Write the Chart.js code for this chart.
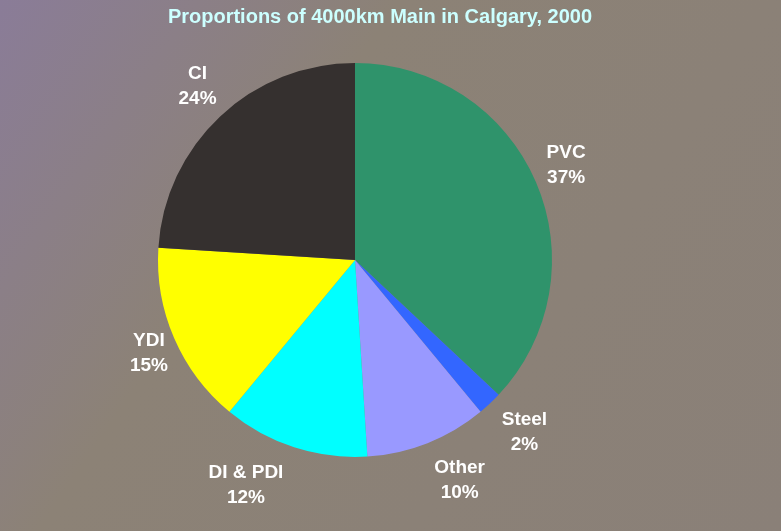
<!DOCTYPE html>
<html>
<head>
<meta charset="utf-8">
<script src="https://cdn.jsdelivr.net/npm/chart.js@4/dist/chart.umd.min.js"></script>
<style>
  html, body { margin: 0; padding: 0; background: #8b8178; }
  #wrap { width: 781px; height: 531px; position: relative; }
</style>
</head>
<body>
<div id="wrap"><canvas id="pie" width="781" height="531"></canvas></div>
<script>
const labels = ["PVC", "Steel", "Other", "DI & PDI", "YDI", "CI"];
const shares = [37, 2, 10, 12, 15, 24];
const colors = ["#2f936b", "#3366ff", "#9999ff", "#00ffff", "#ffff00", "#35302f"];
const chartTitle = "Proportions of 4000km Main in Calgary, 2000";

// small sideways nudges for the crowded bottom labels
const labelNudge = { "DI & PDI": -38, "Other": 20, "Steel": 12, "YDI": 5 };

const backdrop = {
  id: "backdrop",
  beforeDraw(chart) {
    const { ctx, width, height } = chart;
    const g = ctx.createLinearGradient(0, 0, width, height);
    g.addColorStop(0, "#8a7c98");
    g.addColorStop(0.35, "#8c8276");
    g.addColorStop(1, "#8a8078");
    ctx.save();
    ctx.fillStyle = g;
    ctx.fillRect(0, 0, width, height);
    // title sits above the padded chart area, so draw it here
    ctx.font = "bold 20px 'Liberation Sans', Arial, sans-serif";
    ctx.fillStyle = "#ccffff";
    ctx.textAlign = "center";
    ctx.textBaseline = "middle";
    ctx.fillText(chartTitle, 380, 17);
    ctx.restore();
  },
};

const outsideLabels = {
  id: "outsideLabels",
  afterDatasetsDraw(chart) {
    const { ctx } = chart;
    const meta = chart.getDatasetMeta(0);
    const total = shares.reduce((a, b) => a + b, 0);
    ctx.save();
    ctx.font = "bold 19px 'Liberation Sans', Arial, sans-serif";
    ctx.fillStyle = "#ffffff";
    ctx.textAlign = "center";
    ctx.textBaseline = "middle";
    meta.data.forEach((arc, i) => {
      const mid = (arc.startAngle + arc.endAngle) / 2;
      const r = arc.outerRadius;
      const x = arc.x + Math.cos(mid) * (r + 33) + (labelNudge[labels[i]] || 0);
      const y = arc.y + Math.sin(mid) * (r + 40);
      const pct = Math.round((shares[i] / total) * 100) + "%";
      ctx.fillText(labels[i], x, y - 13);
      ctx.fillText(pct, x, y + 12);
    });
    ctx.restore();
  },
};

new Chart(document.getElementById("pie"), {
  type: "pie",
  data: {
    labels,
    datasets: [{ data: shares, backgroundColor: colors, borderWidth: 0 }],
  },
  options: {
    responsive: false,
    animation: false,
    layout: { padding: { left: 158, right: 229, top: 63, bottom: 74 } },
    plugins: {
      legend: { display: false },
      tooltip: { enabled: false },
      title: { display: false },
    },
  },
  plugins: [backdrop, outsideLabels],
});
</script>
</body>
</html>
